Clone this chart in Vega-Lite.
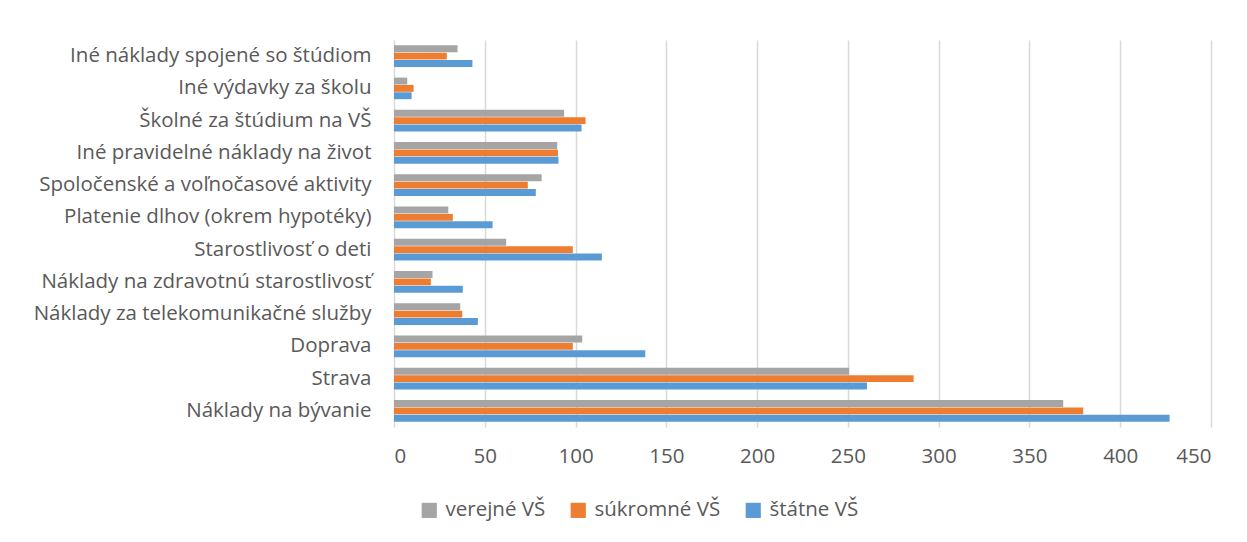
{
  "$schema": "https://vega.github.io/schema/vega-lite/v6.json",
  "width": 817,
  "height": 387,
  "autosize": {"type": "none"},
  "padding": {"left": 394, "top": 40, "right": 36, "bottom": 115},
  "background": "white",
  "config": {
    "font": "Open Sans",
    "view": {"stroke": null},
    "axis": {"labelColor": "#595959", "labelFontSize": 20.5, "labelFont": "Open Sans"}
  },
  "data": {
    "values": [
      {"category": "Iné náklady spojené so štúdiom", "series": "verejné VŠ", "value": 35.0},
      {"category": "Iné náklady spojené so štúdiom", "series": "súkromné VŠ", "value": 29.1},
      {"category": "Iné náklady spojené so štúdiom", "series": "štátne VŠ", "value": 43.2},
      {"category": "Iné výdavky za školu", "series": "verejné VŠ", "value": 7.3},
      {"category": "Iné výdavky za školu", "series": "súkromné VŠ", "value": 10.8},
      {"category": "Iné výdavky za školu", "series": "štátne VŠ", "value": 9.7},
      {"category": "Školné za štúdium na VŠ", "series": "verejné VŠ", "value": 93.7},
      {"category": "Školné za štúdium na VŠ", "series": "súkromné VŠ", "value": 105.5},
      {"category": "Školné za štúdium na VŠ", "series": "štátne VŠ", "value": 103.3},
      {"category": "Iné pravidelné náklady na život", "series": "verejné VŠ", "value": 89.9},
      {"category": "Iné pravidelné náklady na život", "series": "súkromné VŠ", "value": 90.3},
      {"category": "Iné pravidelné náklady na život", "series": "štátne VŠ", "value": 90.6},
      {"category": "Spoločenské a voľnočasové aktivity", "series": "verejné VŠ", "value": 81.3},
      {"category": "Spoločenské a voľnočasové aktivity", "series": "súkromné VŠ", "value": 73.7},
      {"category": "Spoločenské a voľnočasové aktivity", "series": "štátne VŠ", "value": 78.1},
      {"category": "Platenie dlhov (okrem hypotéky)", "series": "verejné VŠ", "value": 29.9},
      {"category": "Platenie dlhov (okrem hypotéky)", "series": "súkromné VŠ", "value": 32.4},
      {"category": "Platenie dlhov (okrem hypotéky)", "series": "štátne VŠ", "value": 54.3},
      {"category": "Starostlivosť o deti", "series": "verejné VŠ", "value": 61.8},
      {"category": "Starostlivosť o deti", "series": "súkromné VŠ", "value": 98.5},
      {"category": "Starostlivosť o deti", "series": "štátne VŠ", "value": 114.5},
      {"category": "Náklady na zdravotnú starostlivosť", "series": "verejné VŠ", "value": 21.2},
      {"category": "Náklady na zdravotnú starostlivosť", "series": "súkromné VŠ", "value": 20.3},
      {"category": "Náklady na zdravotnú starostlivosť", "series": "štátne VŠ", "value": 37.9},
      {"category": "Náklady za telekomunikačné služby", "series": "verejné VŠ", "value": 36.5},
      {"category": "Náklady za telekomunikačné služby", "series": "súkromné VŠ", "value": 37.6},
      {"category": "Náklady za telekomunikačné služby", "series": "štátne VŠ", "value": 46.2},
      {"category": "Doprava", "series": "verejné VŠ", "value": 103.7},
      {"category": "Doprava", "series": "súkromné VŠ", "value": 98.5},
      {"category": "Doprava", "series": "štátne VŠ", "value": 138.4},
      {"category": "Strava", "series": "verejné VŠ", "value": 250.7},
      {"category": "Strava", "series": "súkromné VŠ", "value": 286.2},
      {"category": "Strava", "series": "štátne VŠ", "value": 260.5},
      {"category": "Náklady na bývanie", "series": "verejné VŠ", "value": 368.6},
      {"category": "Náklady na bývanie", "series": "súkromné VŠ", "value": 379.6},
      {"category": "Náklady na bývanie", "series": "štátne VŠ", "value": 427.2}
    ]
  },
  "mark": {"type": "bar"},
  "encoding": {
    "y": {
      "field": "category",
      "type": "nominal",
      "sort": [
        "Iné náklady spojené so štúdiom",
        "Iné výdavky za školu",
        "Školné za štúdium na VŠ",
        "Iné pravidelné náklady na život",
        "Spoločenské a voľnočasové aktivity",
        "Platenie dlhov (okrem hypotéky)",
        "Starostlivosť o deti",
        "Náklady na zdravotnú starostlivosť",
        "Náklady za telekomunikačné služby",
        "Doprava",
        "Strava",
        "Náklady na bývanie"
      ],
      "scale": {"paddingInner": 0.33, "paddingOuter": 0.165},
      "axis": {"title": null, "domain": false, "ticks": false, "labelPadding": 23, "labelLimit": 400}
    },
    "x": {
      "field": "value",
      "type": "quantitative",
      "scale": {"domain": [0, 450], "nice": false},
      "axis": {
        "title": null,
        "values": [0, 50, 100, 150, 200, 250, 300, 350, 400, 450],
        "domain": false,
        "ticks": false,
        "gridColor": "#d9d9d9",
        "gridWidth": 1.5,
        "labelPadding": 19
      }
    },
    "yOffset": {
      "field": "series",
      "type": "nominal",
      "sort": ["verejné VŠ", "súkromné VŠ", "štátne VŠ"],
      "scale": {"paddingInner": 0.06}
    },
    "color": {
      "field": "series",
      "type": "nominal",
      "sort": ["verejné VŠ", "súkromné VŠ", "štátne VŠ"],
      "scale": {
        "domain": ["verejné VŠ", "súkromné VŠ", "štátne VŠ"],
        "range": ["#a5a5a5", "#ed7d31", "#5b9bd5"]
      },
      "legend": {
        "title": null,
        "orient": "none",
        "direction": "horizontal",
        "legendX": 25,
        "legendY": 460,
        "symbolType": "square",
        "symbolSize": 230,
        "symbolStrokeWidth": 0,
        "labelFontSize": 20.5,
        "labelFont": "Open Sans",
        "labelColor": "#595959",
        "labelOffset": 6,
        "columnPadding": 22
      }
    }
  }
}
